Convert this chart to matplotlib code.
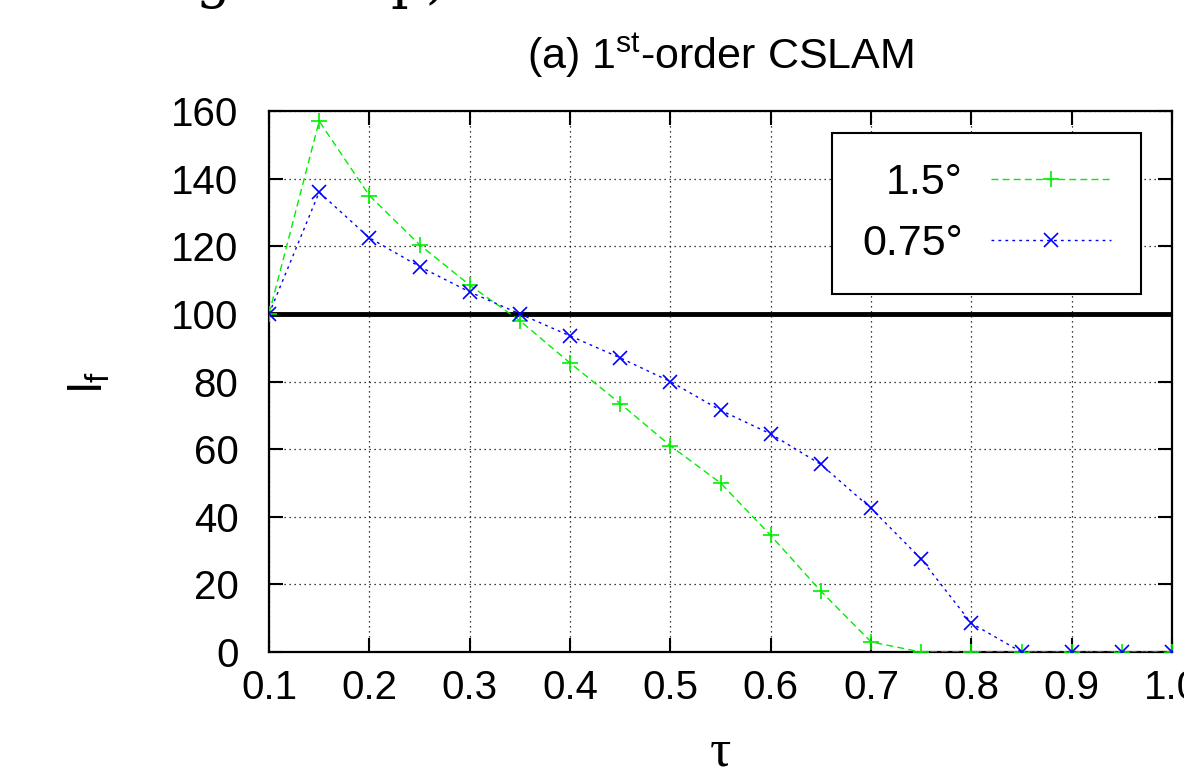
import matplotlib
matplotlib.use('Agg')
import matplotlib.pyplot as plt

# data
tau = [0.1, 0.15, 0.2, 0.25, 0.3, 0.35, 0.4, 0.45, 0.5, 0.55,
       0.6, 0.65, 0.7, 0.75, 0.8, 0.85, 0.9, 0.95, 1.0]
lf_15 = [100, 157, 135, 120.5, 108.5, 98, 85.5, 73.5, 61, 50,
         34.5, 18, 3, 0, 0, 0, 0, 0, 0]
lf_075 = [100, 136, 122.5, 114, 106.5, 100, 93.5, 87, 80, 71.5,
          64.5, 55.5, 42.5, 27.5, 8.5, 0, 0, 0, 0]
labels = ['1.5°', '0.75°']
xticks = [0.1, 0.2, 0.3, 0.4, 0.5, 0.6, 0.7, 0.8, 0.9, 1.0]
yticks = [0, 20, 40, 60, 80, 100, 120, 140, 160]

plt.rcParams['font.family'] = ['Liberation Sans', 'DejaVu Sans']

fig = plt.figure(figsize=(11.84, 7.71), dpi=100)
ax = fig.add_axes([0.2272, 0.1543, 0.7627, 0.7017])

ax.axhline(100, color='black', lw=3.5, zorder=2)
ax.plot(tau, lf_15, color='#00ee00', ls=(0, (5, 3)), lw=1.0,
        marker='+', ms=12, mew=1.2, label=labels[0], zorder=3)
ax.plot(tau, lf_075, color='#0000ff', ls=(0, (2, 3)), lw=1.0,
        marker='x', ms=10, mew=1.2, label=labels[1], zorder=4)

ax.set_xlim(0.1, 1.0)
ax.set_ylim(0, 160)
ax.set_xticks(xticks)
ax.set_xticklabels(['%.1f' % v for v in xticks])
ax.set_yticks(yticks)
ax.tick_params(direction='in', length=10, width=1.5, top=True, right=True,
               labelsize=29)
ax.tick_params(axis='x', pad=12)
ax.tick_params(axis='y', pad=22)
ax.grid(True, color='black', ls=(0, (1, 3)), lw=0.9)
for s in ax.spines.values():
    s.set_linewidth(1.6)

ax.set_title('(a) 1$^{\\mathregular{st}}$-order CSLAM', fontsize=31, pad=30)
ax.set_xlabel('τ', fontsize=38, family=['Liberation Serif', 'DejaVu Serif'],
              va='baseline')
ax.xaxis.set_label_coords(0.5, -0.21)
ax.set_ylabel('l$_\\mathregular{f}$', fontsize=34, labelpad=42)

leg = ax.legend(loc='upper right', bbox_to_anchor=(0.966, 0.96), fontsize=31,
                markerfirst=False, handlelength=2.8, fancybox=False,
                edgecolor='black', framealpha=1, borderpad=0.7,
                labelspacing=0.5, handletextpad=0.65, borderaxespad=0)
leg.get_frame().set_linewidth(1.5)
for t in leg.get_texts():
    t.set_ha('right')

# fragments of a larger caption cut off at the top edge
fig.text(0.165, 0.988, 'g', fontsize=40, family='DejaVu Serif', va='bottom')
fig.text(0.33, 0.988, 'p)', fontsize=40, family='DejaVu Serif', va='bottom')

fig.savefig('out.png', dpi=100)
